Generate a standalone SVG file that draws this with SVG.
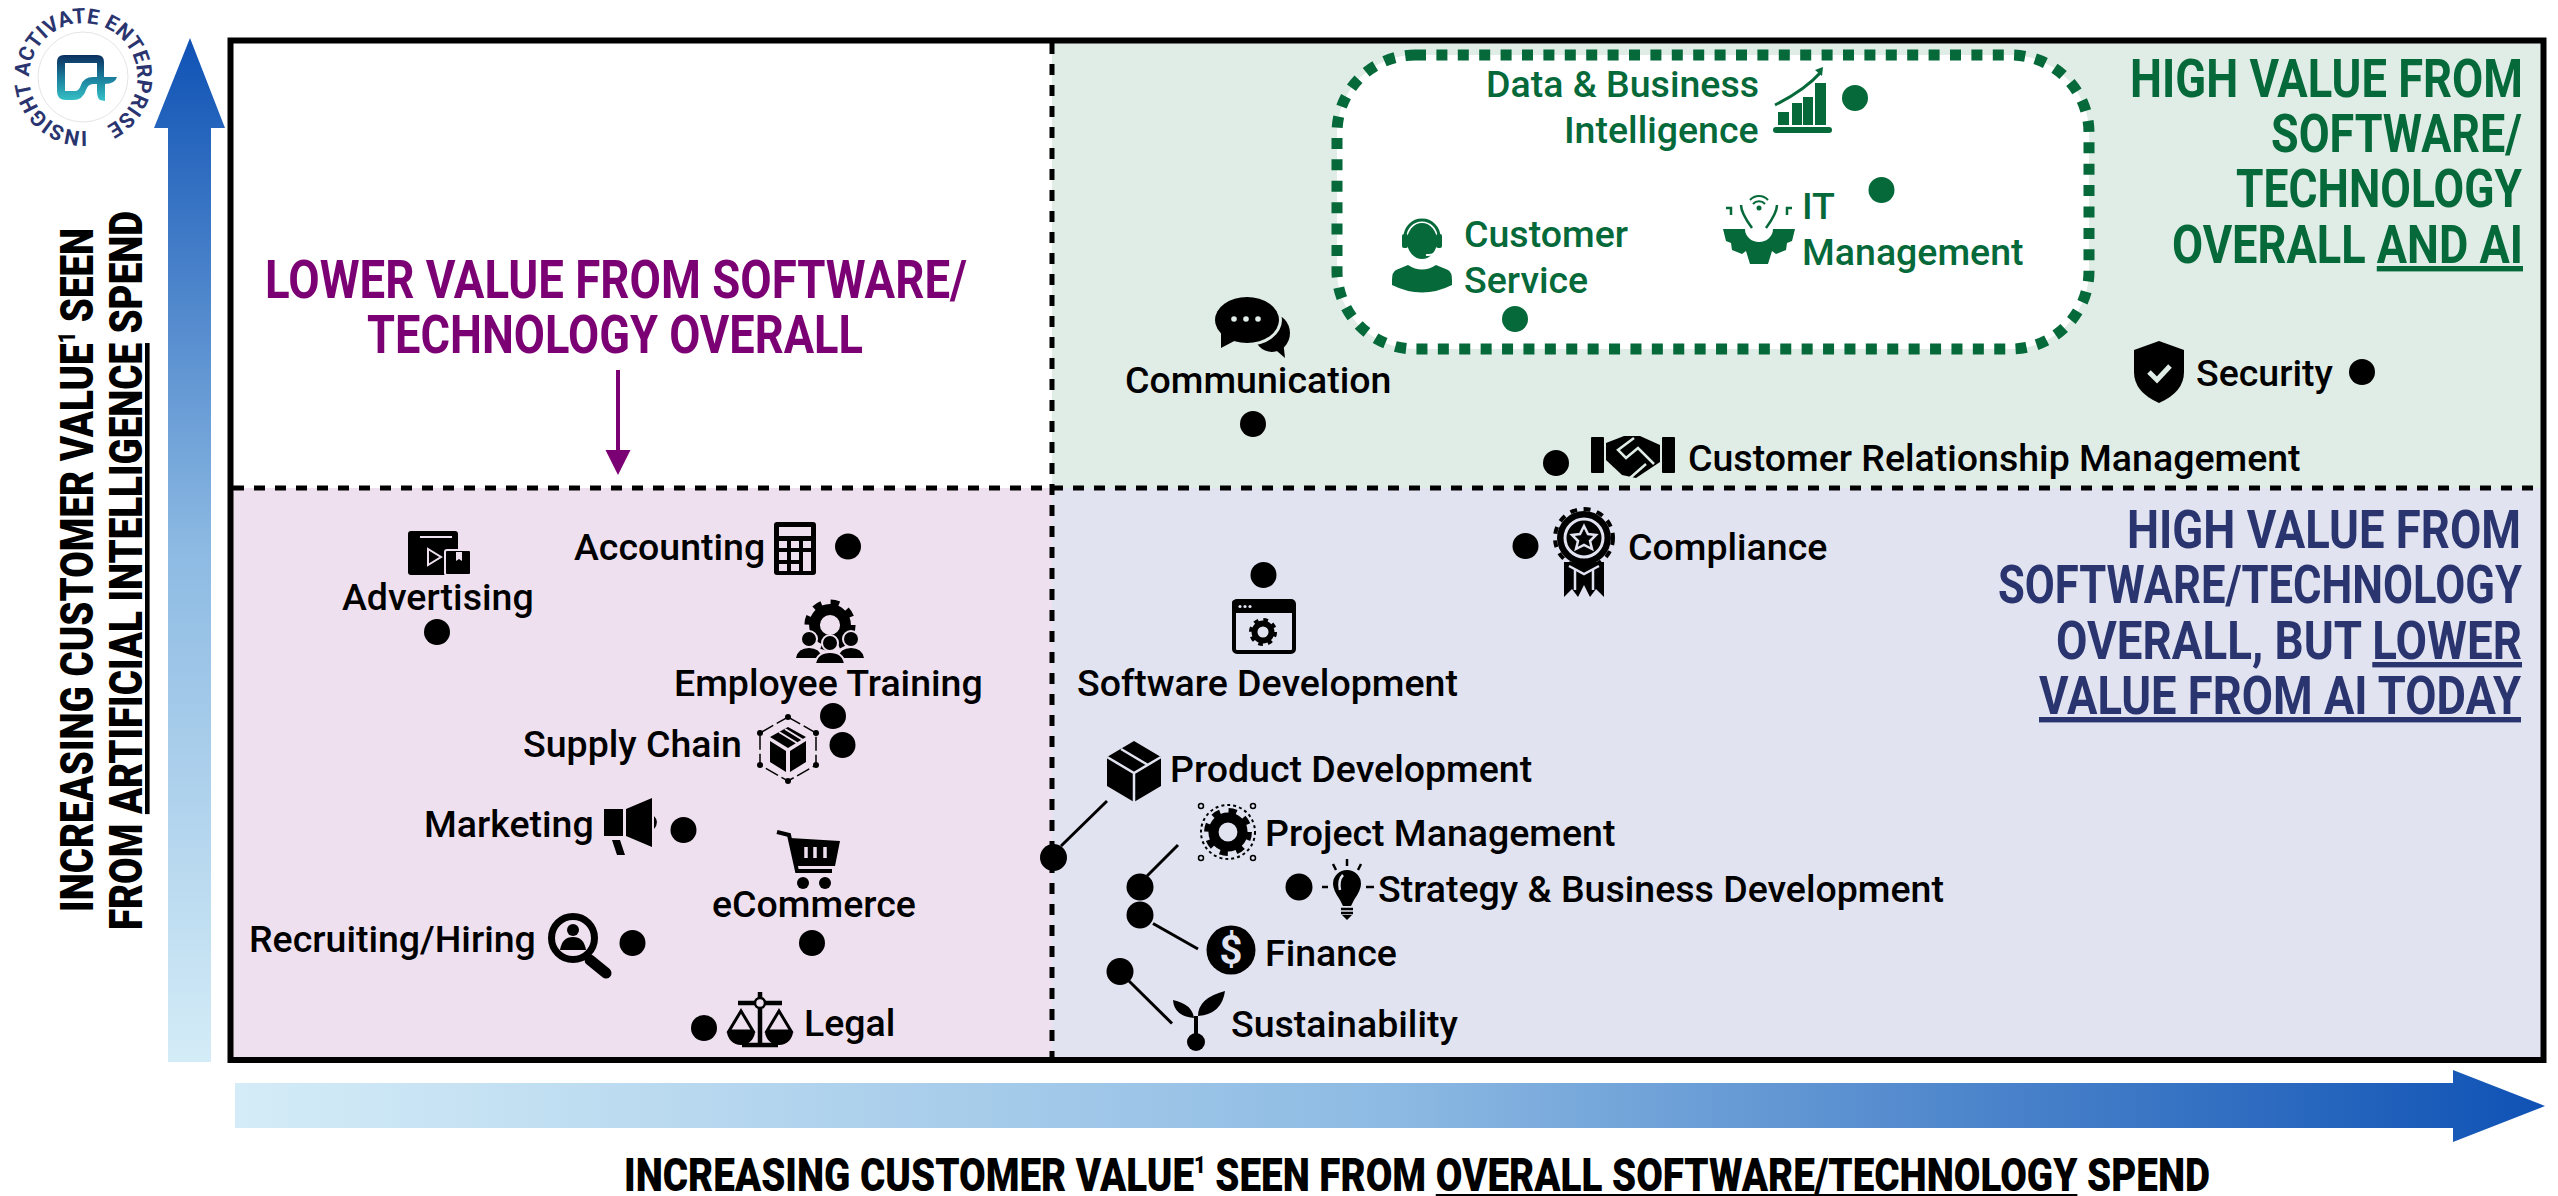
<svg xmlns="http://www.w3.org/2000/svg" xmlns:xlink="http://www.w3.org/1999/xlink" width="2558" height="1196" viewBox="0 0 2558 1196">
<style>
text{font-family:Roboto,"Liberation Sans",sans-serif}
.lb{font-size:37.5px;font-weight:500;fill:#000}
.lg{font-size:37.5px;font-weight:500;fill:#05693A}
.tt{font-size:54px;font-weight:700}
.ax{font-size:46px;font-weight:900;fill:#000}
.dot{fill:#000}
.gd{fill:#05693A}
.lead{stroke:#000;stroke-width:3;fill:none}
.div{stroke:#000;stroke-width:5;fill:none}
.pk{fill:#EEE0EF}.bl{fill:#E1E3F0}.gr{fill:#E0ECE6}
.spk{stroke:#EEE0EF}.sbl{stroke:#E1E3F0}
.k{fill:#000}.g{fill:#05693A}
</style>
<defs>
<linearGradient id="gv" x1="0" y1="1" x2="0" y2="0"><stop offset="0" stop-color="#D4ECF7"/><stop offset=".5" stop-color="#8DBAE3"/><stop offset="1" stop-color="#0F52B5"/></linearGradient>
<linearGradient id="gh" x1="0" y1="0" x2="1" y2="0"><stop offset="0" stop-color="#D4ECF7"/><stop offset=".5" stop-color="#8DBAE3"/><stop offset="1" stop-color="#0F52B5"/></linearGradient>
<linearGradient id="gl" x1="0" y1="0" x2="0" y2="1"><stop offset="0" stop-color="#0B2E5E"/><stop offset=".5" stop-color="#1B7E9C"/><stop offset="1" stop-color="#35C2C6"/></linearGradient>
<marker id="ah" markerUnits="userSpaceOnUse" markerWidth="26" markerHeight="26" refX="0" refY="12.5" orient="auto" viewBox="0 0 26 26"><path d="M0 0L25 12.5L0 25Z" fill="#7B0073"/></marker>
<path id="arcring" d="M87 131A54 54 0 1 1 104 127"/>
<g id="gear"><circle r="10" fill="none" stroke="#000" stroke-width="7"/><circle r="14.5" fill="none" stroke="#000" stroke-width="4" stroke-dasharray="5.5 5.88"/></g>
</defs>

<g id="quadrants">
<rect x="233" y="43" width="819" height="445" fill="#fff"/>
<rect x="1052" y="43" width="1489" height="445" class="gr"/>
<rect x="233" y="488" width="819" height="569" class="pk"/>
<rect x="1052" y="488" width="1489" height="569" class="bl"/>
</g>

<g id="logo">
<circle cx="83" cy="77" r="45" fill="#fff" stroke="#E5E5E5" stroke-width="1"/>
<path fill="url(#gl)" fill-rule="evenodd" d="M64 55H97Q104 55 104 62V77H117Q115 84 105 84V101L100 100Q97 98 97 90V84H93Q88 84 86 90Q83 100 73 100H66Q57 100 57 91V62Q57 55 64 55ZM65 63V91H75Q79 91 81 85Q84 77 93 77H97V63Z"/>
<text font-size="21" font-weight="700" fill="#2A3570"><textPath href="#arcring" textLength="318" lengthAdjust="spacing">INSIGHT ACTIVATE ENTERPRISE</textPath></text>
</g>

<g id="axis-y">
<path d="M190 38L225 128H211V1062H168V128H154Z" fill="url(#gv)"/>
<text class="ax" transform="translate(93 912) rotate(-90)" textLength="684" lengthAdjust="spacingAndGlyphs">INCREASING CUSTOMER VALUE<tspan font-size="24" dy="-18">1</tspan><tspan dy="18"> SEEN</tspan></text>
<text class="ax" transform="translate(142 930) rotate(-90)" textLength="719" lengthAdjust="spacingAndGlyphs">FROM <tspan text-decoration="underline">ARTIFICIAL INTELLIGENCE</tspan> SPEND</text>
</g>
<g id="axis-x">
<path d="M235 1083H2453V1070L2545 1106L2453 1142V1128H235Z" fill="url(#gh)"/>
<text class="ax" x="624" y="1191" textLength="1586" lengthAdjust="spacingAndGlyphs">INCREASING CUSTOMER VALUE<tspan font-size="24" dy="-18">1</tspan><tspan dy="18"> SEEN FROM </tspan><tspan text-decoration="underline">OVERALL SOFTWARE/TECHNOLOGY</tspan> SPEND</text>
</g>

<rect id="frame" x="230.5" y="40.5" width="2313" height="1019.5" fill="none" stroke="#000" stroke-width="6"/>

<g id="connectors">
<path class="div" stroke-dasharray="11 10" d="M1052 43V1057"/>
<path class="div" stroke-dasharray="11 10" d="M233 488H2541"/>
<path d="M618 370V450" stroke="#7B0073" stroke-width="4" fill="none" marker-end="url(#ah)"/>
<path class="lead" d="M1107 801L1061 846"/>
<path class="lead" d="M1178 845L1147 876"/>
<path class="lead" d="M1153 923.5L1198 949"/>
<path class="lead" d="M1129 981L1172 1023.5"/>
</g>

<g id="titles">
<g fill="#7B0073" font-weight="800">
<text class="tt" font-weight="800" x="265" y="298" textLength="702" lengthAdjust="spacingAndGlyphs">LOWER VALUE FROM SOFTWARE/</text>
<text class="tt" x="367" y="353" textLength="496" lengthAdjust="spacingAndGlyphs">TECHNOLOGY OVERALL</text>
</g>
<g fill="#05693A">
<text class="tt" x="2130" y="97" textLength="393" lengthAdjust="spacingAndGlyphs">HIGH VALUE FROM</text>
<text class="tt" x="2271" y="152" textLength="251" lengthAdjust="spacingAndGlyphs">SOFTWARE/</text>
<text class="tt" x="2236" y="207" textLength="286" lengthAdjust="spacingAndGlyphs">TECHNOLOGY</text>
<text class="tt" x="2172" y="263" textLength="351" lengthAdjust="spacingAndGlyphs">OVERALL <tspan text-decoration="underline">AND AI</tspan></text>
</g>
<g fill="#2A3570">
<text class="tt" x="2127" y="548" textLength="394" lengthAdjust="spacingAndGlyphs">HIGH VALUE FROM</text>
<text class="tt" x="1998" y="603" textLength="524" lengthAdjust="spacingAndGlyphs">SOFTWARE/TECHNOLOGY</text>
<text class="tt" x="2056" y="659" textLength="466" lengthAdjust="spacingAndGlyphs">OVERALL, BUT <tspan text-decoration="underline">LOWER</tspan></text>
<text class="tt" x="2039" y="714" textLength="482" lengthAdjust="spacingAndGlyphs" text-decoration="underline">VALUE FROM AI TODAY</text>
</g>
</g>

<rect id="ai-leaders" x="1337" y="55" width="752" height="294" rx="78" fill="#fff" stroke="#05693A" stroke-width="11" stroke-dasharray="11 10.4"/>

<g id="data-bi">
<text class="lg" x="1486" y="97">Data &amp; Business</text>
<text class="lg" x="1564" y="143">Intelligence</text>
<path class="g" d="M1778 112h11v13h-11zM1792 103h10v22h-10zM1803 97h10v28h-10zM1815 83h11v42h-11z"/>
<path d="M1775 105Q1805 90 1821 72" stroke="#05693A" stroke-width="3" fill="none"/>
<path class="g" d="M1815 70L1823 67L1822 76Z"/>
<rect class="g" x="1773" y="127" width="59" height="6" rx="3"/>
<circle class="gd" cx="1855" cy="98" r="13"/>
</g>
<g id="it-management">
<path class="g" d="M1723 229H1745A14 13 0 0 0 1773 229H1795L1792 241L1787 243L1786 250L1776 254L1772 251L1768 264H1750L1746 251L1742 254L1732 250L1731 243L1726 241Z"/>
<path d="M1741 205Q1741 213 1752 228M1777 205Q1777 213 1766 228M1726 208H1731V215M1792 208H1787V215" fill="none" stroke="#05693A" stroke-width="2.5"/>
<path d="M1750 200A12 12 0 0 1 1768 200M1753 204A8 8 0 0 1 1765 204" fill="none" stroke="#05693A" stroke-width="2"/>
<circle class="g" cx="1759" cy="208" r="2.5"/>
<text class="lg" x="1802" y="219">IT</text>
<text class="lg" x="1802" y="265">Management</text>
<circle class="gd" cx="1881.5" cy="190" r="13"/>
</g>
<g id="customer-service">
<ellipse class="g" cx="1422" cy="241" rx="15" ry="18"/>
<path d="M1405 240V237A17 17 0 0 1 1439 237V240" fill="none" stroke="#05693A" stroke-width="3"/>
<rect class="g" x="1402" y="234" width="6" height="14" rx="2"/>
<rect class="g" x="1436" y="234" width="6" height="14" rx="2"/>
<path d="M1438 248Q1436 256 1426 255" fill="none" stroke="#fff" stroke-width="2"/>
<path class="g" d="M1408 265Q1422 274 1436 265L1448 270Q1452 272 1452 280V285Q1422 300 1392 285V280Q1392 272 1396 270Z"/>
<text class="lg" x="1464" y="247">Customer</text>
<text class="lg" x="1464" y="293">Service</text>
<circle class="gd" cx="1515" cy="319" r="13"/>
</g>
<g id="communication">
<ellipse class="k" cx="1272" cy="333" rx="18" ry="19"/>
<path class="k" d="M1270 345L1285 358L1283 340Z"/>
<ellipse class="gr" cx="1247" cy="320" rx="35" ry="26"/>
<ellipse class="k" cx="1247" cy="320" rx="32" ry="23"/>
<path class="k" d="M1221 330L1221 348L1240 338Z"/>
<circle class="gr" cx="1234" cy="319" r="2.8"/><circle class="gr" cx="1246" cy="319" r="2.8"/><circle class="gr" cx="1258" cy="319" r="2.8"/>
<text class="lb" x="1125" y="393">Communication</text>
<circle class="dot" cx="1253" cy="424" r="13"/>
</g>
<g id="crm">
<circle class="dot" cx="1556" cy="463" r="13"/>
<rect class="k" x="1591" y="437" width="13" height="36" rx="1"/>
<rect class="k" x="1662" y="437" width="13" height="36" rx="1"/>
<path class="k" d="M1606 443L1624 436H1640L1660 445V462L1636 478L1622 475L1606 460Z"/>
<path d="M1634 438L1618 450L1626 458L1638 448L1654 464M1630 478L1646 464" fill="none" stroke="#E0ECE6" stroke-width="2.5"/>
<text class="lb" x="1688" y="471">Customer Relationship Management</text>
</g>
<g id="security">
<path class="k" d="M2159 341L2184 350V372Q2184 392 2159 403Q2134 392 2134 372V350Z"/>
<path d="M2149 372L2157 380L2170 366" fill="none" stroke="#E0ECE6" stroke-width="5"/>
<text class="lb" x="2196" y="386">Security</text>
<circle class="dot" cx="2362" cy="372" r="13"/>
</g>

<g id="accounting">
<text class="lb" x="574" y="560">Accounting</text>
<path class="k" fill-rule="evenodd" d="M777 522H813A3 3 0 0 1 816 525V572A3 3 0 0 1 813 575H777A3 3 0 0 1 774 572V525A3 3 0 0 1 777 522ZM779 527V536H811V527ZM779 541V548H787V541ZM791 541V548H799V541ZM803 541V548H811V541ZM779 552V560H787V552ZM791 552V560H799V552ZM803 552V571H811V552ZM779 564V571H787V564ZM791 564V571H799V564Z"/>
<circle class="dot" cx="848" cy="546.5" r="13"/>
</g>
<g id="advertising">
<rect class="k" x="408" y="531" width="50" height="44" rx="3"/>
<path class="spk" d="M420 537H452" stroke-width="2"/>
<path d="M428 549V565L441 557Z" class="spk" fill="none" stroke-width="2"/>
<rect class="k spk" x="445" y="550" width="26" height="25" rx="2" stroke-width="2"/>
<path class="pk" d="M456 552H462V561L459 559L456 561Z"/>
<text class="lb" x="342" y="610">Advertising</text>
<circle class="dot" cx="437" cy="632" r="13"/>
</g>
<g id="employee-training">
<g transform="translate(830 625) scale(1.55)"><use href="#gear"/></g>
<circle class="k spk" cx="809" cy="639" r="8" stroke-width="2"/>
<circle class="k spk" cx="851" cy="639" r="8" stroke-width="2"/>
<path class="k" d="M796 658Q798 648 809 648Q820 648 822 658ZM838 658Q840 648 851 648Q862 648 864 658Z"/>
<circle class="k spk" cx="830" cy="643" r="8" stroke-width="2"/>
<path class="k spk" d="M815 664Q817 652 830 652Q843 652 845 664Z" stroke-width="2"/>
<text class="lb" x="674" y="696">Employee Training</text>
<circle class="dot" cx="833" cy="716" r="13"/>
</g>
<g id="supply-chain">
<text class="lb" x="523" y="757">Supply Chain</text>
<path d="M788 717L816 733V765L788 781L760 765V733Z" fill="none" stroke="#000" stroke-width="1.5" stroke-dasharray="14 4"/>
<g class="k"><circle cx="788" cy="717" r="3"/><circle cx="816" cy="733" r="3"/><circle cx="816" cy="765" r="3"/><circle cx="788" cy="781" r="3"/><circle cx="760" cy="765" r="3"/><circle cx="760" cy="733" r="3"/></g>
<path class="k" d="M788 727L806 737L788 748L770 737ZM770 741L786 751V772L770 762ZM790 751L806 741V762L790 772Z"/>
<path class="spk" d="M779 732L797 743M785 729L803 740" stroke-width="2"/>
<circle class="dot" cx="842.5" cy="745" r="13"/>
</g>
<g id="marketing">
<text class="lb" x="424" y="837">Marketing</text>
<path class="k" d="M604 809H623V836H604ZM626 809L652 798V847L626 836ZM654 816Q660 822 654 829ZM612 840H620L625 855H617Z"/>
<circle class="dot" cx="683.5" cy="830" r="13"/>
</g>
<g id="ecommerce">
<path d="M777 832L789 835L797 871H832" fill="none" stroke="#000" stroke-width="4"/>
<path class="k" d="M790 838L840 841L835 866H796Z"/>
<path class="spk" d="M806 847V858M815 847V858M825 847V858" stroke-width="3.5"/>
<circle class="k" cx="803" cy="883" r="6"/><circle class="k" cx="825" cy="883" r="6"/>
<text class="lb" x="712" y="917">eCommerce</text>
<circle class="dot" cx="812" cy="943" r="13"/>
</g>
<g id="recruiting">
<text class="lb" x="249" y="952">Recruiting/Hiring</text>
<circle cx="573" cy="938" r="21.5" fill="none" stroke="#000" stroke-width="7"/>
<circle class="k" cx="573" cy="930" r="6"/>
<path class="k" d="M560 950Q562 937 573 937Q584 937 586 950Z"/>
<path d="M590 960L606 973" stroke="#000" stroke-width="11" stroke-linecap="round"/>
<circle class="dot" cx="632.5" cy="943" r="13"/>
</g>
<g id="legal">
<circle class="dot" cx="704" cy="1028" r="13"/>
<path d="M760 992V1044M738 1003H782M742 1045H778" stroke="#000" stroke-width="4.5" fill="none"/>
<circle cx="760" cy="1003" r="5" class="pk" stroke="#000" stroke-width="2.5"/>
<path d="M741 1011L729 1031H753ZM779 1011L767 1031H791Z" fill="none" stroke="#000" stroke-width="3"/>
<path class="k" d="M727 1031A14 14 0 0 0 755 1031ZM765 1031A14 14 0 0 0 793 1031Z"/>
<text class="lb" x="804" y="1036">Legal</text>
</g>

<g id="compliance">
<circle class="dot" cx="1525.5" cy="546" r="13"/>
<path class="k" d="M1564 562H1604V597L1596 589L1590 597L1584 585L1578 597L1572 589L1564 597Z"/>
<path class="sbl" d="M1575 570V590M1593 570V590" stroke-width="2.5"/>
<circle cx="1584" cy="538" r="27" class="k"/>
<circle cx="1584" cy="538" r="29" fill="none" stroke="#000" stroke-width="4" stroke-dasharray="7 6.6"/>
<circle cx="1584" cy="538" r="19" class="k sbl" stroke-width="3"/>
<path class="sbl" fill="none" stroke-width="2.5" d="M1584 526L1588 534L1596 535L1590 541L1592 549L1584 545L1576 549L1578 541L1572 535L1580 534Z"/>
<path class="sbl" d="M1569 566L1584 574L1599 566" fill="none" stroke-width="2.5"/>
<text class="lb" x="1628" y="560">Compliance</text>
</g>
<g id="software-development">
<circle class="dot" cx="1263.5" cy="575" r="13"/>
<rect x="1234" y="601" width="60" height="51" rx="3" fill="none" stroke="#000" stroke-width="4"/>
<rect class="k" x="1232" y="600" width="63" height="13" rx="3"/>
<circle class="bl" cx="1240" cy="606.5" r="1.6"/><circle class="bl" cx="1245" cy="606.5" r="1.6"/><circle class="bl" cx="1250" cy="606.5" r="1.6"/>
<g transform="translate(1263 632) scale(.85)"><use href="#gear"/></g>
<text class="lb" x="1077" y="696">Software Development</text>
</g>
<g id="product-development">
<path class="k" d="M1134 741L1161 757V786L1134 802L1107 786V757Z"/>
<path class="sbl" fill="none" stroke-width="2.5" d="M1107 757L1134 773L1161 757M1134 773V802M1121 749L1148 765"/>
<text class="lb" x="1170" y="782">Product Development</text>
<circle class="dot" cx="1053.5" cy="857.5" r="13.5"/>
</g>
<g id="project-management">
<circle cx="1228" cy="832" r="27" fill="none" stroke="#000" stroke-width="2" stroke-dasharray="3 3"/>
<g transform="translate(1228 832) scale(1.45)"><use href="#gear"/></g>
<circle cx="1201" cy="806" r="2.5" fill="none" stroke="#000" stroke-width="1.5"/><circle cx="1253" cy="806" r="2.5" fill="none" stroke="#000" stroke-width="1.5"/><circle cx="1201" cy="858" r="2.5" fill="none" stroke="#000" stroke-width="1.5"/><circle cx="1253" cy="858" r="2.5" fill="none" stroke="#000" stroke-width="1.5"/>
<text class="lb" x="1265" y="846">Project Management</text>
<circle class="dot" cx="1140" cy="887" r="13.5"/>
</g>
<g id="strategy">
<circle class="dot" cx="1299" cy="887" r="13.5"/>
<path class="k" d="M1347 870A14 14 0 0 1 1361 884Q1361 890 1354 900L1351 906H1343L1340 900Q1333 890 1333 884A14 14 0 0 1 1347 870Z"/>
<path class="sbl" d="M1343 875Q1338 880 1340 890" fill="none" stroke-width="2.5"/>
<path d="M1347 859V866M1333 864L1336 870M1361 864L1358 870M1322 887H1328M1366 887H1374M1341 909H1353M1341 913H1353" stroke="#000" stroke-width="2.5" fill="none"/>
<path class="k" d="M1342 915H1352L1347 920Z"/>
<text class="lb" x="1378" y="902">Strategy &amp; Business Development</text>
</g>
<g id="finance">
<circle class="dot" cx="1140" cy="915" r="13.5"/>
<circle class="k" cx="1231" cy="950" r="24.5"/>
<text x="1231" y="964" font-size="40" font-weight="700" fill="#E1E3F0" text-anchor="middle">$</text>
<text class="lb" x="1265" y="966">Finance</text>
</g>
<g id="sustainability">
<circle class="dot" cx="1120" cy="971.5" r="13.5"/>
<circle class="k" cx="1196" cy="1042" r="9"/>
<path d="M1196 1034V1016" stroke="#000" stroke-width="4"/>
<path class="k" d="M1198 1016Q1198 998 1225 991Q1222 1014 1198 1016ZM1194 1018Q1192 1004 1173 1000Q1174 1016 1194 1018Z"/>
<text class="lb" x="1231" y="1037">Sustainability</text>
</g>
</svg>
